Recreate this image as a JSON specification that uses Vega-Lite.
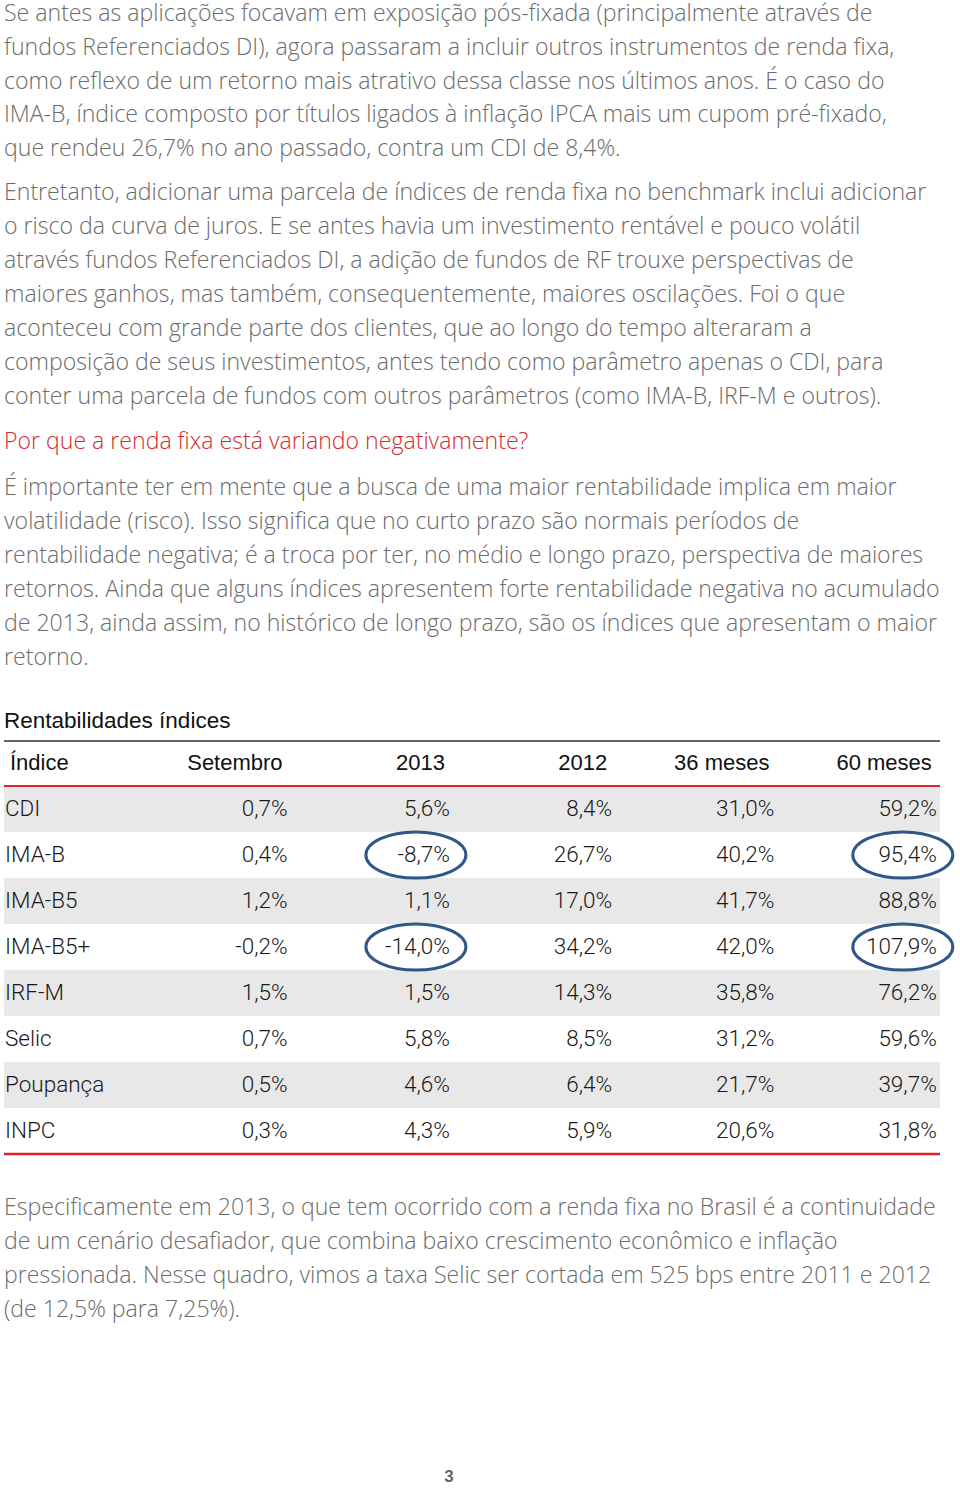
{
  "$schema": "https://vega.github.io/schema/vega-lite/v6.json",
  "width": 960,
  "height": 1488,
  "autosize": {"type": "none"},
  "padding": 0,
  "background": "white",
  "config": {
    "view": {"stroke": null},
    "axis": {"disable": true},
    "legend": {"disable": true},
    "locale": {"number": {"decimal": ",", "thousands": ".", "grouping": [3], "currency": ["R$", ""], "minus": "-"}}
  },
  "datasets": {
    "texto": [
      {"bloco": "p1", "linha": 1, "texto": "Se antes as aplicações focavam em exposição pós-fixada (principalmente através de"},
      {"bloco": "p1", "linha": 2, "texto": "fundos Referenciados DI), agora passaram a incluir outros instrumentos de renda fixa,"},
      {"bloco": "p1", "linha": 3, "texto": "como reflexo de um retorno mais atrativo dessa classe nos últimos anos. É o caso do"},
      {"bloco": "p1", "linha": 4, "texto": "IMA-B, índice composto por títulos ligados à inflação IPCA mais um cupom pré-fixado,"},
      {"bloco": "p1", "linha": 5, "texto": "que rendeu 26,7% no ano passado, contra um CDI de 8,4%."},
      {"bloco": "p2", "linha": 1, "texto": "Entretanto, adicionar uma parcela de índices de renda fixa no benchmark inclui adicionar"},
      {"bloco": "p2", "linha": 2, "texto": "o risco da curva de juros. E se antes havia um investimento rentável e pouco volátil"},
      {"bloco": "p2", "linha": 3, "texto": "através fundos Referenciados DI, a adição de fundos de RF trouxe perspectivas de"},
      {"bloco": "p2", "linha": 4, "texto": "maiores ganhos, mas também, consequentemente, maiores oscilações. Foi o que"},
      {"bloco": "p2", "linha": 5, "texto": "aconteceu com grande parte dos clientes, que ao longo do tempo alteraram a"},
      {"bloco": "p2", "linha": 6, "texto": "composição de seus investimentos, antes tendo como parâmetro apenas o CDI, para"},
      {"bloco": "p2", "linha": 7, "texto": "conter uma parcela de fundos com outros parâmetros (como IMA-B, IRF-M e outros)."},
      {"bloco": "h", "linha": 1, "texto": "Por que a renda fixa está variando negativamente?"},
      {"bloco": "p3", "linha": 1, "texto": "É importante ter em mente que a busca de uma maior rentabilidade implica em maior"},
      {"bloco": "p3", "linha": 2, "texto": "volatilidade (risco). Isso significa que no curto prazo são normais períodos de"},
      {"bloco": "p3", "linha": 3, "texto": "rentabilidade negativa; é a troca por ter, no médio e longo prazo, perspectiva de maiores"},
      {"bloco": "p3", "linha": 4, "texto": "retornos. Ainda que alguns índices apresentem forte rentabilidade negativa no acumulado"},
      {"bloco": "p3", "linha": 5, "texto": "de 2013, ainda assim, no histórico de longo prazo, são os índices que apresentam o maior"},
      {"bloco": "p3", "linha": 6, "texto": "retorno."},
      {"bloco": "titulo", "linha": 1, "texto": "Rentabilidades índices"},
      {"bloco": "p4", "linha": 1, "texto": "Especificamente em 2013, o que tem ocorrido com a renda fixa no Brasil é a continuidade"},
      {"bloco": "p4", "linha": 2, "texto": "de um cenário desafiador, que combina baixo crescimento econômico e inflação"},
      {"bloco": "p4", "linha": 3, "texto": "pressionada. Nesse quadro, vimos a taxa Selic ser cortada em 525 bps entre 2011 e 2012"},
      {"bloco": "p4", "linha": 4, "texto": "(de 12,5% para 7,25%)."},
      {"bloco": "pagina", "linha": 1, "texto": "3"}
    ],
    "tabela": [
      {"Índice": "CDI", "Setembro": 0.007, "2013": 0.056, "2012": 0.084, "36 meses": 0.310, "60 meses": 0.592},
      {"Índice": "IMA-B", "Setembro": 0.004, "2013": -0.087, "2012": 0.267, "36 meses": 0.402, "60 meses": 0.954},
      {"Índice": "IMA-B5", "Setembro": 0.012, "2013": 0.011, "2012": 0.170, "36 meses": 0.417, "60 meses": 0.888},
      {"Índice": "IMA-B5+", "Setembro": -0.002, "2013": -0.140, "2012": 0.342, "36 meses": 0.420, "60 meses": 1.079},
      {"Índice": "IRF-M", "Setembro": 0.015, "2013": 0.015, "2012": 0.143, "36 meses": 0.358, "60 meses": 0.762},
      {"Índice": "Selic", "Setembro": 0.007, "2013": 0.058, "2012": 0.085, "36 meses": 0.312, "60 meses": 0.596},
      {"Índice": "Poupança", "Setembro": 0.005, "2013": 0.046, "2012": 0.064, "36 meses": 0.217, "60 meses": 0.397},
      {"Índice": "INPC", "Setembro": 0.003, "2013": 0.043, "2012": 0.059, "36 meses": 0.206, "60 meses": 0.318}
    ]
  },
  "resolve": {"scale": {"x": "independent", "y": "independent"}},
  "layer": [
    {
      "data": {"name": "texto"},
      "transform": [{"filter": {"field": "bloco", "equal": "p1"}}],
      "mark": {"type": "text", "align": "left", "baseline": "middle", "font": "Open Sans", "fontWeight": 300, "fontSize": 23.1, "color": "#6b6b6b"},
      "encoding": {
        "x": {"value": 4},
        "y": {"field": "linha", "type": "ordinal", "scale": {"type": "point", "domain": [1, 2, 3, 4, 5], "range": [14, 149], "padding": 0}},
        "text": {"field": "texto"}
      }
    },
    {
      "data": {"name": "texto"},
      "transform": [{"filter": {"field": "bloco", "equal": "p2"}}],
      "mark": {"type": "text", "align": "left", "baseline": "middle", "font": "Open Sans", "fontWeight": 300, "fontSize": 23.1, "color": "#6b6b6b"},
      "encoding": {
        "x": {"value": 4},
        "y": {"field": "linha", "type": "ordinal", "scale": {"type": "point", "domain": [1, 2, 3, 4, 5, 6, 7], "range": [193, 397], "padding": 0}},
        "text": {"field": "texto"}
      }
    },
    {
      "data": {"name": "texto"},
      "transform": [{"filter": {"field": "bloco", "equal": "h"}}],
      "mark": {"type": "text", "align": "left", "baseline": "middle", "font": "Open Sans", "fontWeight": 300, "fontSize": 23.1, "color": "#d42a2f"},
      "encoding": {
        "x": {"value": 4},
        "y": {"field": "linha", "type": "ordinal", "scale": {"type": "point", "domain": [1], "range": [442, 442], "padding": 0}},
        "text": {"field": "texto"}
      }
    },
    {
      "data": {"name": "texto"},
      "transform": [{"filter": {"field": "bloco", "equal": "p3"}}],
      "mark": {"type": "text", "align": "left", "baseline": "middle", "font": "Open Sans", "fontWeight": 300, "fontSize": 23.1, "color": "#6b6b6b"},
      "encoding": {
        "x": {"value": 4},
        "y": {"field": "linha", "type": "ordinal", "scale": {"type": "point", "domain": [1, 2, 3, 4, 5, 6], "range": [488, 658], "padding": 0}},
        "text": {"field": "texto"}
      }
    },
    {
      "data": {"name": "texto"},
      "transform": [{"filter": {"field": "bloco", "equal": "titulo"}}],
      "mark": {"type": "text", "align": "left", "baseline": "middle", "font": "Liberation Sans", "fontSize": 22.5, "color": "#111111"},
      "encoding": {
        "x": {"value": 4},
        "y": {"field": "linha", "type": "ordinal", "scale": {"type": "point", "domain": [1], "range": [721, 721], "padding": 0}},
        "text": {"field": "texto"}
      }
    },
    {
      "data": {"name": "texto"},
      "transform": [{"filter": {"field": "bloco", "equal": "p4"}}],
      "mark": {"type": "text", "align": "left", "baseline": "middle", "font": "Open Sans", "fontWeight": 300, "fontSize": 23.1, "color": "#6b6b6b"},
      "encoding": {
        "x": {"value": 4},
        "y": {"field": "linha", "type": "ordinal", "scale": {"type": "point", "domain": [1, 2, 3, 4], "range": [1208, 1310], "padding": 0}},
        "text": {"field": "texto"}
      }
    },
    {
      "data": {"name": "texto"},
      "transform": [{"filter": {"field": "bloco", "equal": "pagina"}}],
      "mark": {"type": "text", "align": "center", "baseline": "middle", "font": "Liberation Sans", "fontWeight": "bold", "fontSize": 17, "color": "#666666"},
      "encoding": {
        "x": {"value": 449},
        "y": {"field": "linha", "type": "ordinal", "scale": {"type": "point", "domain": [1], "range": [1477, 1477], "padding": 0}},
        "text": {"field": "texto"}
      }
    },
    {
      "data": {"name": "tabela"},
      "transform": [{"filter": {"field": "Índice", "oneOf": ["CDI", "IMA-B5", "IRF-M", "Poupança"]}}],
      "mark": {"type": "rect", "color": "#e8e8e8"},
      "encoding": {
        "x": {"value": 4},
        "x2": {"value": 940},
        "y": {"field": "Índice", "type": "nominal", "scale": {"type": "band", "domain": ["Índice", "CDI", "IMA-B", "IMA-B5", "IMA-B5+", "IRF-M", "Selic", "Poupança", "INPC"], "range": [740, 1154], "paddingInner": 0, "paddingOuter": 0}}
      }
    },
    {
      "data": {"values": [{}]},
      "mark": {"type": "rule", "color": "#666666", "strokeWidth": 2},
      "encoding": {
        "x": {"value": 4},
        "x2": {"value": 940},
        "y": {"datum": "Índice", "type": "nominal", "bandPosition": 0, "scale": {"type": "band", "domain": ["Índice", "CDI", "IMA-B", "IMA-B5", "IMA-B5+", "IRF-M", "Selic", "Poupança", "INPC"], "range": [741, 1155], "paddingInner": 0, "paddingOuter": 0}}
      }
    },
    {
      "data": {"values": [{}]},
      "mark": {"type": "rule", "color": "#d9252b", "strokeWidth": 2},
      "encoding": {
        "x": {"value": 4},
        "x2": {"value": 940},
        "y": {"datum": "CDI", "type": "nominal", "bandPosition": 0, "scale": {"type": "band", "domain": ["Índice", "CDI", "IMA-B", "IMA-B5", "IMA-B5+", "IRF-M", "Selic", "Poupança", "INPC"], "range": [740, 1154], "paddingInner": 0, "paddingOuter": 0}}
      }
    },
    {
      "data": {"values": [{}]},
      "mark": {"type": "rule", "color": "#d9252b", "strokeWidth": 2.5},
      "encoding": {
        "x": {"value": 4},
        "x2": {"value": 940},
        "y": {"datum": "INPC", "type": "nominal", "bandPosition": 1, "scale": {"type": "band", "domain": ["Índice", "CDI", "IMA-B", "IMA-B5", "IMA-B5+", "IRF-M", "Selic", "Poupança", "INPC"], "range": [740, 1154], "paddingInner": 0, "paddingOuter": 0}}
      }
    },
    {
      "data": {"values": [{"cabecalho": "Índice"}]},
      "mark": {"type": "text", "align": "left", "baseline": "middle", "font": "Liberation Sans", "fontSize": 22, "color": "#111111"},
      "encoding": {
        "x": {"value": 10},
        "y": {"field": "cabecalho", "type": "nominal", "scale": {"type": "band", "domain": ["Índice", "CDI", "IMA-B", "IMA-B5", "IMA-B5+", "IRF-M", "Selic", "Poupança", "INPC"], "range": [740, 1154], "paddingInner": 0, "paddingOuter": 0}},
        "text": {"field": "cabecalho"}
      }
    },
    {
      "data": {"name": "tabela"},
      "transform": [
        {"filter": {"field": "Índice", "equal": "CDI"}},
        {"fold": ["Setembro", "2013", "2012", "36 meses", "60 meses"]}
      ],
      "mark": {"type": "text", "align": "right", "baseline": "middle", "dx": -5, "font": "Liberation Sans", "fontSize": 22, "color": "#111111"},
      "encoding": {
        "x": {"field": "key", "type": "nominal", "scale": {"type": "point", "domain": ["Setembro", "2013", "2012", "36 meses", "60 meses"], "range": [287.6, 936.8], "padding": 0}},
        "y": {"datum": "Índice", "type": "nominal", "scale": {"type": "band", "domain": ["Índice", "CDI", "IMA-B", "IMA-B5", "IMA-B5+", "IRF-M", "Selic", "Poupança", "INPC"], "range": [740, 1154], "paddingInner": 0, "paddingOuter": 0}},
        "text": {"field": "key"}
      }
    },
    {
      "data": {"name": "tabela"},
      "mark": {"type": "text", "align": "left", "baseline": "middle", "font": "Roboto", "fontWeight": 300, "fontSize": 22.5, "color": "#1a1a1a"},
      "encoding": {
        "x": {"value": 5},
        "y": {"field": "Índice", "type": "nominal", "scale": {"type": "band", "domain": ["Índice", "CDI", "IMA-B", "IMA-B5", "IMA-B5+", "IRF-M", "Selic", "Poupança", "INPC"], "range": [740, 1154], "paddingInner": 0, "paddingOuter": 0}},
        "text": {"field": "Índice"}
      }
    },
    {
      "data": {"name": "tabela"},
      "transform": [{"fold": ["Setembro", "2013", "2012", "36 meses", "60 meses"]}],
      "mark": {"type": "text", "align": "right", "baseline": "middle", "font": "Roboto", "fontWeight": 300, "fontSize": 22.5, "color": "#1a1a1a"},
      "encoding": {
        "x": {"field": "key", "type": "nominal", "scale": {"type": "point", "domain": ["Setembro", "2013", "2012", "36 meses", "60 meses"], "range": [287.6, 936.8], "padding": 0}},
        "y": {"field": "Índice", "type": "nominal", "scale": {"type": "band", "domain": ["Índice", "CDI", "IMA-B", "IMA-B5", "IMA-B5+", "IRF-M", "Selic", "Poupança", "INPC"], "range": [740, 1154], "paddingInner": 0, "paddingOuter": 0}},
        "text": {"field": "value", "type": "quantitative", "format": ".1%"}
      }
    },
    {
      "data": {"name": "tabela"},
      "transform": [
        {"fold": ["Setembro", "2013", "2012", "36 meses", "60 meses"]},
        {"filter": {"and": [{"field": "Índice", "oneOf": ["IMA-B", "IMA-B5+"]}, {"field": "key", "oneOf": ["2013", "60 meses"]}]}}
      ],
      "mark": {
        "type": "point",
        "filled": false,
        "color": "#2f5888",
        "opacity": 1,
        "strokeWidth": 3,
        "size": 10000,
        "shape": "M -1.68 0 C -1.68 -0.254 -1.2323 -0.46 -0.68 -0.46 C -0.1277 -0.46 0.32 -0.254 0.32 0 C 0.32 0.254 -0.1277 0.46 -0.68 0.46 C -1.2323 0.46 -1.68 0.254 -1.68 0 Z"
      },
      "encoding": {
        "x": {"field": "key", "type": "nominal", "scale": {"type": "point", "domain": ["Setembro", "2013", "2012", "36 meses", "60 meses"], "range": [287.6, 936.8], "padding": 0}},
        "y": {"field": "Índice", "type": "nominal", "scale": {"type": "band", "domain": ["Índice", "CDI", "IMA-B", "IMA-B5", "IMA-B5+", "IRF-M", "Selic", "Poupança", "INPC"], "range": [740, 1154], "paddingInner": 0, "paddingOuter": 0}}
      }
    }
  ]
}
